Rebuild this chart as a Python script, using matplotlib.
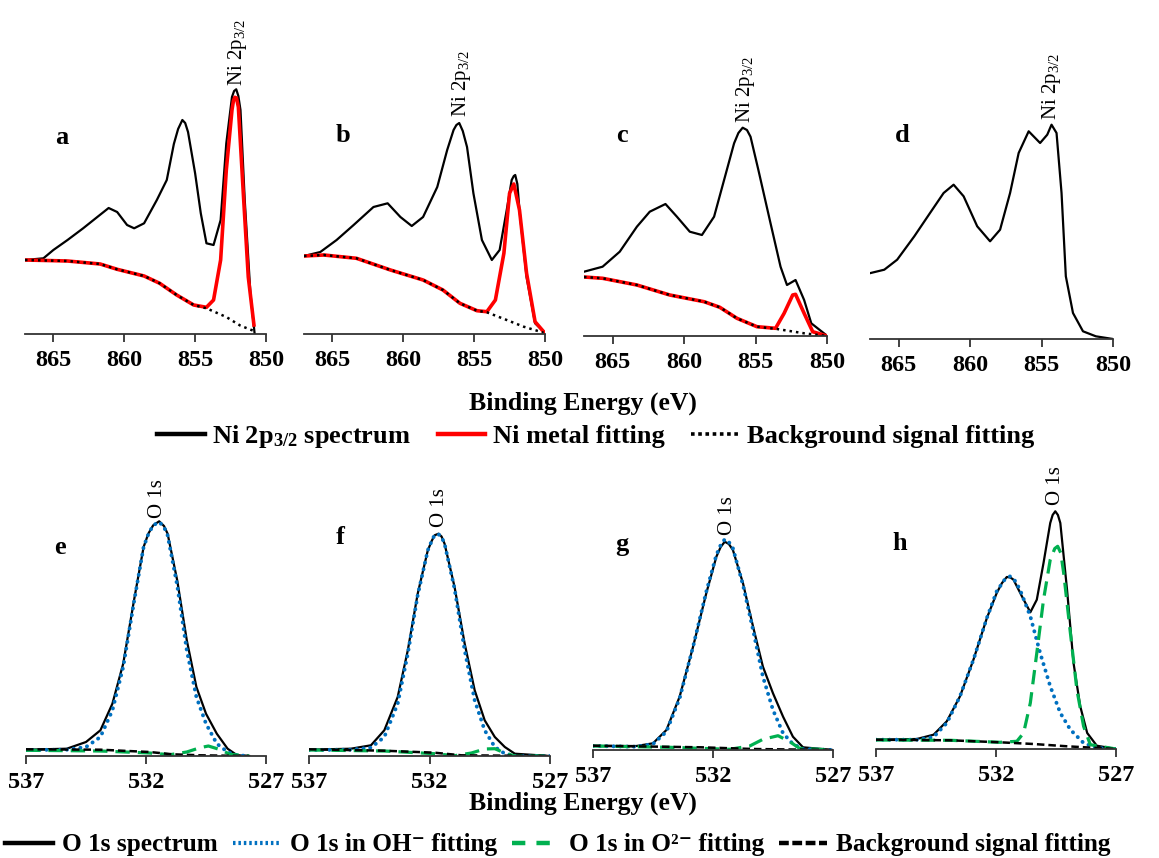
import matplotlib
matplotlib.use('Agg')
import matplotlib.pyplot as plt
from matplotlib.lines import Line2D

plt.rcParams['font.family'] = ['Liberation Serif', 'DejaVu Serif']
plt.rcParams['font.weight'] = 'bold'
plt.rcParams['mathtext.fontset'] = 'custom'
plt.rcParams['mathtext.rm'] = 'Liberation Serif'
plt.rcParams['mathtext.bf'] = 'Liberation Serif:bold'

# ---- Ni 2p3/2 spectra (intensity in arbitrary units) ----
a_spec_E = [867.0, 865.7, 865.0, 864.0, 862.9, 861.9, 861.1, 860.5, 859.8, 859.3, 858.6, 857.7, 857.0, 856.5,
            856.2, 855.9, 855.7, 855.5, 855.0, 854.6, 854.2, 853.7, 853.2, 852.8, 852.4, 852.25, 852.1, 851.95,
            851.8, 851.5, 851.1, 850.8]
a_spec = [74, 75.7, 84, 94, 105.7, 117, 126, 122, 109, 105.7, 110.7, 134, 154, 190,
          205, 214, 211, 202, 160.7, 120.7, 90.7, 89, 114, 190.7, 237, 243, 244.7, 238,
          224, 134, 40.7, 0]
a_fit_E = [867.0, 864.0, 861.7, 860.5, 858.6, 857.5, 856.3, 855.1, 854.2, 853.7, 853.2, 852.8, 852.4, 852.3,
           852.2, 852.08, 851.95, 851.6, 851.25, 850.85]
a_fit = [74, 73, 70, 64.7, 58, 50.7, 39, 29, 26.7, 34, 74, 164, 224, 233, 236.7, 236, 227, 140.7, 57, 9]
a_bg_E = [867.0, 864.0, 861.7, 860.5, 858.6, 857.5, 856.3, 855.1, 854.2, 852.8, 851.8, 850.9]
a_bg = [74, 73, 70, 64.7, 58, 50.7, 39, 29, 25.7, 17, 8.3, 3.3]

b_spec_E = [867.0, 865.85, 864.7, 863.5, 862.1, 861.1, 860.2, 859.4, 858.6, 857.6, 856.9, 856.45, 856.25,
            856.05, 855.8, 855.5, 855.05, 854.45, 853.75, 853.2, 852.7, 852.35, 852.2, 852.1, 851.95, 851.8,
            851.3, 850.7, 850.0]
b_spec = [78, 82, 94, 109, 127, 130.7, 117, 108, 117, 147, 184, 204, 209,
          211, 203, 187, 140.7, 94, 74, 84, 124, 154, 158, 159, 150, 124,
          57, 10.7, 1.3]
b_fit_E = [867.0, 865.6, 863.3, 860.9, 858.6, 857.2, 856.0, 854.8, 854.1, 853.5, 852.9, 852.5, 852.2,
           851.8, 851.3, 850.7, 850.0]
b_fit = [78, 79, 75.7, 64, 54, 44, 30.7, 23.3, 22.3, 34, 80.7, 140.7, 150, 124, 60.7, 12.3, 0.7]
b_bg_E = [867.0, 865.6, 863.3, 860.9, 858.6, 857.2, 856.0, 854.8, 854.1, 852.7, 851.5, 850.1]
b_bg = [78, 79, 75.7, 64, 54, 44, 30.7, 23.3, 21.7, 14, 7.3, 1.3]

c_spec_E = [867.0, 865.7, 864.5, 863.3, 862.4, 861.3, 860.5, 859.6, 858.75, 857.9, 857.2, 856.5, 856.2,
            855.9, 855.6, 855.35, 854.8, 853.95, 853.25, 852.8, 852.2, 851.6, 851.1, 850.0]
c_spec = [64.3, 69.3, 84.3, 109.3, 124.3, 132, 119.3, 104.3, 101, 119.3, 156, 192.7, 203,
          208.3, 206, 199.3, 166, 112.7, 69.3, 51, 56, 36, 12.7, 0.3]
c_fit_E = [867.0, 865.7, 863.3, 861.0, 858.6, 857.5, 856.3, 854.9, 853.6, 853.0, 852.4, 852.2, 851.6,
           851.0, 850.0]
c_fit = [59, 57.7, 51, 41, 34.3, 28.7, 17.7, 9.3, 7.7, 22.7, 41, 41.7, 22.7, 4.3, 0]
c_bg_E = [867.0, 865.7, 863.3, 861.0, 858.6, 857.5, 856.3, 854.9, 853.5, 851.6, 850.0]
c_bg = [59, 57.7, 51, 41, 34.3, 28.7, 17.7, 9.3, 7, 2.7, 0]

d_spec_E = [866.95, 866.0, 865.1, 863.9, 862.8, 861.85, 861.15, 860.45, 859.5, 858.6, 857.9, 857.2, 856.6,
            855.9, 855.1, 854.6, 854.3, 853.95, 853.6, 853.3, 852.8, 852.1, 851.2, 850.0]
d_spec = [66, 69.3, 79.3, 102.7, 126, 146, 154.3, 142.7, 112.7, 97.7, 109.3, 146, 186,
          207.7, 196, 204.3, 214.3, 206, 146, 62.7, 26, 7.7, 2.7, 0]

# ---- O 1s spectra ----
e_E = [537.0, 535.3, 534.5, 533.9, 533.4, 532.95, 532.5, 532.1, 531.9, 531.7, 531.45, 531.25, 531.1, 530.7,
       530.3, 529.9, 529.5, 529.05, 528.6, 528.2, 527.7]
e_spec = [6.3, 7.3, 14, 25.7, 52.3, 92.3, 155.7, 209, 222.5, 230.7, 234.7, 230, 222.3, 175.7,
          115.7, 69, 42.3, 22.3, 7.3, 0.7, 0]
e_oh = [6, 6.3, 9, 19, 45.7, 89, 154, 209, 222, 230.7, 234, 229, 220.7, 170.7,
        105.7, 59, 32.3, 12.3, 4, 0.7, 0]
e_o2_E = [537.0, 533.9, 531.85, 531.0, 530.3, 529.75, 529.4, 528.9, 528.5, 527.7]
e_o2 = [5.7, 5, 3, 1.3, 4, 8.3, 10, 6.3, 1.7, 0]
e_bg_E = [537.0, 533.9, 531.85, 530.9, 529.75, 527.7]
e_bg = [6.7, 6.3, 4, 1.7, 0.7, 0]

f_E = [537.0, 535.26, 534.43, 533.875, 533.32, 532.9, 532.49, 532.07, 531.9, 531.79, 531.625, 531.5, 531.375,
       530.96, 530.54, 530.125, 529.71, 529.29, 528.875, 528.46, 527.0]
f_spec = [6.3, 7.3, 10.7, 25.7, 59, 105.7, 162.3, 205.7, 215.5, 220.7, 222.3, 219.5, 212.3,
          169, 112.3, 65.7, 35.7, 19, 9, 2.3, 0]
f_oh = [6, 6.3, 8.3, 19, 52.3, 102.3, 160.7, 205.7, 215.5, 221, 221.7, 219, 212.3,
        167.3, 105.7, 55.7, 25.7, 9, 2.3, 0, 0]
f_o2_E = [537.0, 533.875, 531.79, 530.96, 530.26, 529.71, 529.29, 528.875, 528.46, 527.0]
f_o2 = [6, 5, 2.3, 0.3, 3, 7, 7.3, 3, 0, 0]
f_bg_E = [537.0, 533.875, 531.79, 530.68, 527.0]
f_bg = [6.7, 5.3, 3.3, 0.7, 0]

g_E = [537.0, 535.19, 534.5, 533.94, 533.39, 532.83, 532.28, 531.86, 531.68, 531.51, 531.34, 531.17, 530.75,
       530.33, 529.92, 529.5, 529.08, 528.67, 528.25, 527.0]
g_spec = [4, 4, 6.7, 20, 53.3, 103.3, 156.7, 193.3, 203, 208.3, 206, 200, 166.7,
          123.3, 83.3, 56.7, 33.3, 13.3, 2.7, 0]
g_oh = [4, 3.3, 6, 18.3, 51.7, 103.3, 158.3, 195, 205, 210.7, 208, 201.7, 165,
        120, 73.3, 40, 16.7, 6, 1, 0]
g_o2_E = [537.0, 533.8, 531.3, 530.47, 529.92, 529.29, 528.8, 528.4, 527.0]
g_o2 = [4, 2.7, 0.7, 4, 10.7, 14.3, 8.3, 1.7, 0]
g_bg_E = [537.0, 532.5, 530.33, 527.0]
g_bg = [4.3, 2.7, 1, 0]

h_E = [537.0, 535.3, 534.6, 534.05, 533.5, 532.94, 532.38, 531.97, 531.75, 531.55, 531.4, 531.27, 530.92,
       530.57, 530.3, 530.02, 529.74, 529.64, 529.53, 529.42, 529.32, 529.04, 528.77, 528.49, 528.2,
       527.8, 527.0]
h_spec = [9.3, 10, 14.3, 27.7, 52.7, 89.3, 131, 156, 166, 172, 171.5, 169.3, 152.7,
          136.7, 149.3, 186, 226, 234, 237.7, 234, 226, 159.3, 86, 42.7, 16,
          3.3, 0]
h_oh_E = [537.0, 535.3, 534.6, 534.05, 533.5, 532.94, 532.38, 531.97, 531.65, 531.41, 531.2, 531.0, 530.57,
          530.16, 529.74, 529.32, 528.9, 528.35, 527.8, 527.0]
h_oh = [9.3, 9.3, 12, 26, 52.7, 89.3, 131, 157.7, 169, 172.7, 168, 159.3, 132.7,
        96, 62.7, 36, 19.3, 6, 1, 0]
h_o2_E = [537.0, 533.9, 531.83, 531.13, 530.85, 530.57, 530.3, 530.02, 529.74, 529.55, 529.43, 529.3,
          529.18, 528.9, 528.63, 528.35, 528.07, 527.0]
h_o2 = [9, 8.7, 6.7, 7.7, 16, 46, 96, 149.3, 189.3, 200.5, 202.7, 196, 176, 116, 59.3, 22.7, 4.3, 0]
h_bg_E = [537.0, 533.9, 531.83, 530.43, 529.04, 527.0]
h_bg = [9.3, 8.7, 6.7, 5, 2.7, 0]

ni_ticks = [865, 860, 855, 850]
o_ticks = [537, 532, 527]

W, H = 1159, 858
fig = plt.figure(figsize=(W / 100, H / 100), dpi=100)

BLUE = '#0070C0'
GREEN = '#00B050'
RED = '#FF0000'


def make_ax(x0, x1, ytop, yaxis, xlim, ticks):
    ax = fig.add_axes([x0 / W, 1 - yaxis / H, (x1 - x0) / W, (yaxis - ytop) / H])
    ax.set_xlim(*xlim)
    ax.set_ylim(0, yaxis - ytop)
    for s in ['left', 'right', 'top']:
        ax.spines[s].set_visible(False)
    ax.spines['bottom'].set_linewidth(1.3)
    ax.spines['bottom'].set_color('#333333')
    ax.set_yticks([])
    ax.set_xticks(ticks)
    ax.tick_params(axis='x', direction='out', length=5.5, width=1.3, color='#333333',
                   labelsize=17.5, pad=6)
    ax.patch.set_alpha(0)
    return ax


def ftext(x, y, s, **kw):
    fig.text(x / W, 1 - y / H, s, **kw)


# top row: Ni 2p3/2
top = [
    (25, 266, 334, a_spec_E, a_spec, a_fit_E, a_fit, a_bg_E, a_bg, 852.0, 248),
    (304, 545, 334, b_spec_E, b_spec, b_fit_E, b_fit, b_bg_E, b_bg, 855.9, 217),
    (584, 827, 336, c_spec_E, c_spec, c_fit_E, c_fit, c_bg_E, c_bg, 855.7, 213),
    (870, 1113, 339, d_spec_E, d_spec, None, None, None, None, 854.3, 219),
]
for x0, x1, ya, sE, s, fE, fv, bE, bv, lx, ly in top:
    ax = make_ax(x0, x1, 0, ya, (867, 850), ni_ticks)
    ax.plot(sE, s, color='black', lw=1.6)
    if fE is not None:
        ax.plot(fE, fv, color=RED, lw=2.6)
        ax.plot(bE, bv, color='black', lw=1.8, ls=(0, (1, 1.6)))
    ax.text(lx, ly, r'Ni 2p$\mathregular{_{3/2}}$', rotation=90, ha='center', va='bottom',
            fontsize=15, fontweight='normal', clip_on=False)

for lab, x, y in [('a', 62, 137), ('b', 343, 135), ('c', 622, 136), ('d', 902, 136)]:
    ftext(x, y, lab, fontsize=19, ha='center', va='center')

# bottom row: O 1s
bottom = [
    (26, 266, 756, e_E, e_spec, e_E, e_oh, e_o2_E, e_o2, e_bg_E, e_bg, 531.5, 238),
    (309, 550, 756, f_E, f_spec, f_E, f_oh, f_o2_E, f_o2, f_bg_E, f_bg, 531.6, 229),
    (593, 833, 750, g_E, g_spec, g_E, g_oh, g_o2_E, g_o2, g_bg_E, g_bg, 531.4, 215),
    (876, 1116, 749, h_E, h_spec, h_oh_E, h_oh, h_o2_E, h_o2, h_bg_E, h_bg, 529.5, 244),
]
for x0, x1, ya, sE, s, oE, ov, gE, gv, bE, bv, lx, ly in bottom:
    ax = make_ax(x0, x1, 470, ya, (537, 527), o_ticks)
    ax.plot(sE, s, color='black', lw=1.6)
    ax.plot(oE, ov, color=BLUE, lw=2.8, ls=(0, (0.05, 1.7)), dash_capstyle='round')
    ax.plot(gE, gv, color=GREEN, lw=2.3, ls=(0, (4.5, 2.5)))
    ax.plot(bE, bv, color='black', lw=1.8, ls=(0, (3, 1.6)))
    ax.text(lx, ly, 'O 1s', rotation=90, ha='center', va='bottom',
            fontsize=15, fontweight='normal', clip_on=False)

for lab, x, y in [('e', 60, 547), ('f', 340, 538), ('g', 622, 545), ('h', 900, 543)]:
    ftext(x, y, lab, fontsize=19, ha='center', va='center')

ftext(583, 403, 'Binding Energy (eV)', fontsize=18.5, ha='center', va='center')
ftext(583, 803, 'Binding Energy (eV)', fontsize=18.5, ha='center', va='center')

h1 = [Line2D([], [], color='black', lw=3.2),
      Line2D([], [], color=RED, lw=3.2),
      Line2D([], [], color='black', lw=2.6, ls=(0, (1, 1)))]
l1 = [r'Ni 2p$\mathregular{_{3/2}}$ spectrum', 'Ni metal fitting', 'Background signal fitting']
fig.legend(h1, l1, loc='center left', bbox_to_anchor=(157 / W, 1 - 437 / H), ncol=3, frameon=False,
           prop={'size': 19, 'weight': 'bold'}, handlelength=1.8, handletextpad=0.3,
           columnspacing=1.0, borderpad=0, borderaxespad=0)

h2 = [Line2D([], [], color='black', lw=3.2),
      Line2D([], [], color=BLUE, lw=3.0, ls=(0, (0.6, 0.7))),
      Line2D([], [], color=GREEN, lw=3.2, ls=(0, (3, 2.5))),
      Line2D([], [], color='black', lw=3.2, ls=(0, (2.2, 0.8)))]
l2 = ['O 1s spectrum', 'O 1s in OH\u207b fitting', 'O 1s in O\u00b2\u207b fitting',
      'Background signal fitting']
fig.legend(h2, l2, loc='center left', bbox_to_anchor=(5 / W, 1 - 845 / H), ncol=4, frameon=False,
           prop={'size': 18.2, 'weight': 'bold'}, handlelength=1.9, handletextpad=0.35,
           columnspacing=0.6, borderpad=0, borderaxespad=0)

fig.savefig('out.png', dpi=100)
